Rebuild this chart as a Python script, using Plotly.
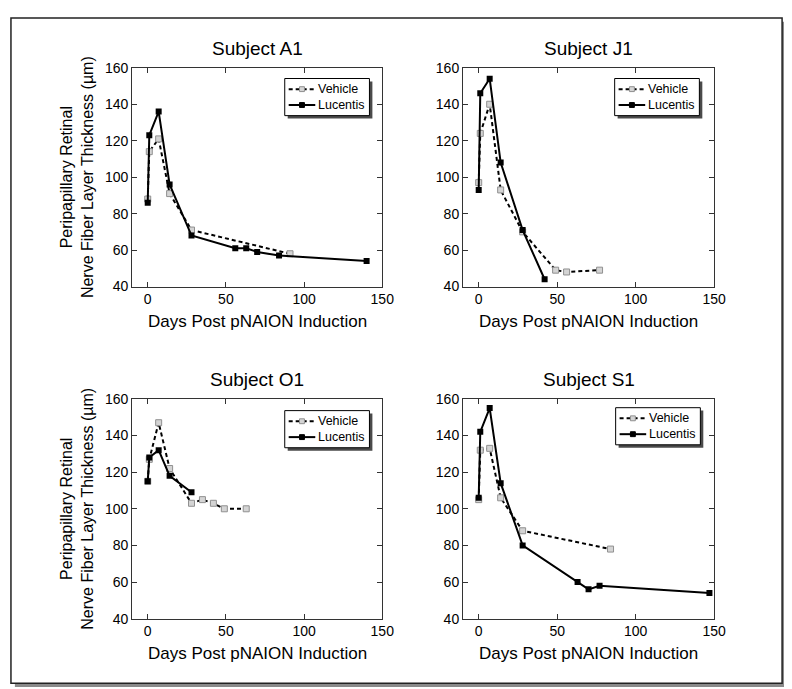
import plotly.graph_objects as go

# ---------------- data ----------------
subjects = ["Subject A1", "Subject J1", "Subject O1", "Subject S1"]
series_names = ["Vehicle", "Lucentis"]

a1_veh_days = [0, 1, 7, 14, 28, 91]
a1_veh = [88, 114, 121, 91, 71, 58]
a1_luc_days = [0, 1, 7, 14, 28, 56, 63, 70, 84, 140]
a1_luc = [86, 123, 136, 96, 68, 61, 61, 59, 57, 54]

j1_veh_days = [0, 1, 7, 14, 28, 49, 56, 77]
j1_veh = [97, 124, 140, 93, 70, 49, 48, 49]
j1_luc_days = [0, 1, 7, 14, 28, 42]
j1_luc = [93, 146, 154, 108, 71, 44]

o1_veh_days = [0, 1, 7, 14, 28, 35, 42, 49, 63]
o1_veh = [115, 127, 147, 122, 103, 105, 103, 100, 100]
o1_luc_days = [0, 1, 7, 14, 28]
o1_luc = [115, 128, 132, 118, 109]

s1_veh_days = [0, 1, 7, 14, 28, 84]
s1_veh = [105, 132, 133, 106, 88, 78]
s1_luc_days = [0, 1, 7, 14, 28, 63, 70, 77, 147]
s1_luc = [106, 142, 155, 114, 80, 60, 56, 58, 54]

x_ticks = [0, 50, 100, 150]
y_ticks = [40, 60, 80, 100, 120, 140, 160]
x_label = "Days Post pNAION Induction"
y_label_1 = "Peripapillary Retinal"
y_label_2 = "Nerve Fiber Layer Thickness (µm)"

series = [
    (a1_veh_days, a1_veh, a1_luc_days, a1_luc),
    (j1_veh_days, j1_veh, j1_luc_days, j1_luc),
    (o1_veh_days, o1_veh, o1_luc_days, o1_luc),
    (s1_veh_days, s1_veh, s1_luc_days, s1_luc),
]

# ---------------- layout geometry (pixels) ----------------
W, H = 792, 689
FONT = "Liberation Sans, Arial, Helvetica, sans-serif"
cols = [(126, 380), (462, 717)]
rows = [(53, 277), (392, 617)]
legend_boxes = [(281, 64), (616, 64), (281, 404), (617, 401)]  # left, top
LEG_W, LEG_H = 86, 38
LEG_FONT = 12.5
LEG_STEP = LEG_FONT * 1.3

VEH_LINE = dict(color="black", width=2, dash="4px,3px")
VEH_MARK = dict(symbol="square", size=6, color="#d4d4d4",
                line=dict(color="#909090", width=1))
LUC_LINE = dict(color="black", width=2)
LUC_MARK = dict(symbol="square", size=6, color="black")


def px(x):
    return x / W


def py(y):
    return 1 - y / H


fig = go.Figure()
annotations = []
shapes = []

# outer frame with shadow
shapes.append(dict(type="rect", xref="paper", yref="paper", layer="below",
                   x0=px(7), x1=px(790), y0=py(687), y1=py(6),
                   fillcolor="#8a8a8a", line=dict(width=0)))
shapes.append(dict(type="rect", xref="paper", yref="paper", layer="below",
                   x0=px(3), x1=px(786), y0=py(683), y1=py(2),
                   fillcolor="white", line=dict(color="#222222", width=1.5)))

for i, (vd, vv, ld, lv) in enumerate(series):
    r, c = divmod(i, 2)
    n = "" if i == 0 else str(i + 1)
    xa, ya = "x" + n, "y" + n
    fig.add_trace(go.Scatter(
        x=vd, y=vv, mode="lines+markers", name=series_names[0],
        xaxis=xa, yaxis=ya, showlegend=False,
        line=VEH_LINE, marker=VEH_MARK,
    ))
    fig.add_trace(go.Scatter(
        x=ld, y=lv, mode="lines+markers", name=series_names[1],
        xaxis=xa, yaxis=ya, showlegend=False,
        line=LUC_LINE, marker=LUC_MARK,
    ))
    x0, x1 = cols[c]
    y0, y1 = rows[r]
    axis_common = dict(showline=True, linecolor="#333333", linewidth=1,
                       mirror="allticks", ticks="inside", ticklen=5,
                       tickcolor="#333333", showgrid=False, zeroline=False,
                       tickfont=dict(family=FONT, size=14, color="black"))
    fig.layout["xaxis" + n] = dict(domain=[px(x0), px(x1)], range=[-10, 150],
                                   anchor=ya, tickvals=x_ticks, **axis_common)
    fig.layout["yaxis" + n] = dict(domain=[py(y1), py(y0)], range=[40, 160],
                                   anchor=xa, tickvals=y_ticks, **axis_common)

    # ---- legend box (decoration) ----
    L, T = legend_boxes[i]
    shapes.append(dict(type="rect", xref="paper", yref="paper", layer="above",
                       x0=px(L + 3), x1=px(L + LEG_W + 3),
                       y0=py(T + LEG_H + 3), y1=py(T + 3),
                       fillcolor="#4a4a4a", line=dict(width=0)))
    shapes.append(dict(type="rect", xref="paper", yref="paper", layer="above",
                       x0=px(L), x1=px(L + LEG_W),
                       y0=py(T + LEG_H), y1=py(T),
                       fillcolor="white", line=dict(color="black", width=1)))
    mid = T + LEG_H / 2
    for k, (ln, mk) in enumerate(((VEH_LINE, VEH_MARK), (LUC_LINE, LUC_MARK))):
        yy = mid + (k - 0.5) * LEG_STEP
        shapes.append(dict(type="line", xref="paper", yref="paper", layer="above",
                           x0=px(L + 4), x1=px(L + 31), y0=py(yy), y1=py(yy),
                           line=dict(color="black", width=2,
                                     dash=ln.get("dash", "solid"))))
        mline = mk.get("line", {})
        shapes.append(dict(type="rect", xref="paper", yref="paper", layer="above",
                           x0=px(L + 15), x1=px(L + 20),
                           y0=py(yy + 2.5), y1=py(yy - 2.5),
                           fillcolor=mk["color"],
                           line=dict(color=mline.get("color", mk["color"]),
                                     width=1)))
    annotations.append(dict(text="<br>".join(series_names), x=px(L + 32), y=py(mid),
                            xref="paper", yref="paper", showarrow=False,
                            xanchor="left", yanchor="middle", align="left",
                            font=dict(family=FONT, size=LEG_FONT, color="black")))

    cx = (x0 + x1) / 2
    annotations.append(dict(text=subjects[i], x=px(cx), y=py(y0 - 20),
                            xref="paper", yref="paper", showarrow=False,
                            xanchor="center", yanchor="middle",
                            font=dict(family=FONT, size=19, color="black")))
    annotations.append(dict(text=x_label, x=px(cx), y=py(y1 + 36),
                            xref="paper", yref="paper", showarrow=False,
                            xanchor="center", yanchor="middle",
                            font=dict(family=FONT, size=17, color="black")))
    if c == 0:
        cy = (y0 + y1) / 2
        annotations.append(dict(text=y_label_1 + "<br>" + y_label_2,
                                x=px(70), y=py(cy), textangle=-90,
                                xref="paper", yref="paper", showarrow=False,
                                xanchor="center", yanchor="middle",
                                font=dict(family=FONT, size=16, color="black")))

fig.update_layout(width=W, height=H, margin=dict(l=0, r=0, t=0, b=0),
                  paper_bgcolor="white", plot_bgcolor="white",
                  annotations=annotations, shapes=shapes, showlegend=False)

fig.write_html("out.html")
